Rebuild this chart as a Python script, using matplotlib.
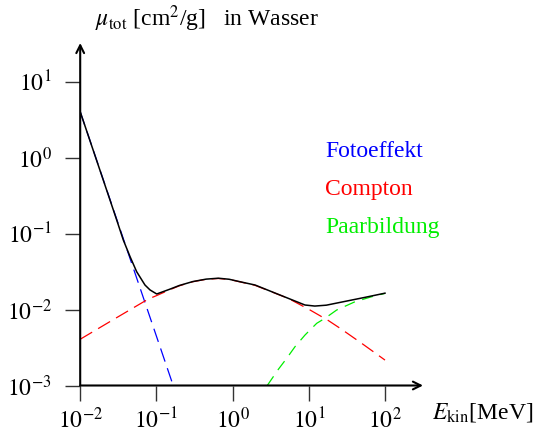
import matplotlib
matplotlib.use("Agg")
import matplotlib.pyplot as plt

# ---------------- data ----------------
photo_E = [0.01, 0.166]
photo_mu = [4.0, 0.001]

compton_E = [0.01, 0.03, 0.078, 0.1, 0.15, 0.2, 0.3, 0.45, 0.65, 0.9, 1.25, 1.97,
             5.38, 10.4, 14.8, 16.3, 27.0, 49.4, 100.0]
compton_mu = [0.00406, 0.0078, 0.0137, 0.0152, 0.0182, 0.0205, 0.0232, 0.0250, 0.0256,
              0.0249, 0.0231, 0.0208, 0.0140, 0.00984, 0.00803, 0.00766, 0.00548,
              0.00359, 0.00216]

pair_E = [2.85, 3.98, 5.13, 6.59, 8.91, 12.7, 16.3, 23.2, 40.4, 66.8, 100.0]
pair_mu = [0.001, 0.00163, 0.00228, 0.00324, 0.00461, 0.00658, 0.00766, 0.00984,
           0.01265, 0.01472, 0.0163]

total_E = [0.01, 0.0246, 0.0301, 0.0368, 0.0451, 0.0551, 0.0708, 0.0824, 0.101, 0.15,
           0.2, 0.3, 0.45, 0.65, 0.9, 1.25, 1.97, 4.19, 8.9, 12.0, 17.0, 24.4, 35.0,
           54.7, 100.0]
total_mu = [4.0, 0.276, 0.151, 0.082, 0.0496, 0.0314, 0.021, 0.0181, 0.0160, 0.0185,
            0.0207, 0.0233, 0.0251, 0.0258, 0.0250, 0.0232, 0.0210, 0.0155, 0.01146,
            0.0111, 0.0114, 0.01227, 0.0132, 0.01445, 0.0164]

x_ticks = [1e-2, 1e-1, 1e0, 1e1, 1e2]
x_ticklabels = [r"$10^{-2}$", r"$10^{-1}$", r"$10^{0}$", r"$10^{1}$", r"$10^{2}$"]
y_ticks = [1e-3, 1e-2, 1e-1, 1e0, 1e1]
y_ticklabels = [r"$10^{-3}$", r"$10^{-2}$", r"$10^{-1}$", r"$10^{0}$", r"$10^{1}$"]

labels = ["Fotoeffekt", "Compton", "Paarbildung"]
label_colors = ["#0000ff", "#ff0000", "#00ee00"]

# ---------------- style ----------------
plt.rcParams["font.family"] = ["Liberation Serif", "DejaVu Serif"]
plt.rcParams["mathtext.fontset"] = "stix"
plt.rcParams["lines.scale_dashes"] = False

W, H = 533, 433
fig = plt.figure(figsize=(W / 100, H / 100), dpi=100)


def fx(px):
    return px / W


def fy(py):
    return 1 - py / H


x0, x1 = 80.2, 423.0   # pixel of 1e-2 and arrow tip
y0, y1 = 385.5, 43.0   # pixel of 1e-3 and arrow tip
dec_x, dec_y = 76.2, 76.0

ax = fig.add_axes([fx(x0), fy(y0), fx(x1) - fx(x0), fy(y1) - fy(y0)])
ax.set_xscale("log")
ax.set_yscale("log")
ax.set_xlim(1e-2, 10 ** (-2 + (x1 - x0) / dec_x))
ax.set_ylim(1e-3, 10 ** (-3 + (y0 - y1) / dec_y))
ax.patch.set_alpha(0)
for s in ax.spines.values():
    s.set_visible(False)

ax.plot(photo_E, photo_mu, color="#0000ff", lw=0.9, ls=(0, (10, 5)))
ax.plot(compton_E, compton_mu, color="#ff0000", lw=0.9, ls=(0, (10, 5)))
ax.plot(pair_E, pair_mu, color="#00ee00", lw=0.9, ls=(0, (8, 5.5)))
ax.plot(total_E, total_mu, color="black", lw=1.1)

# axes with arrows
arrow_kw = dict(arrowstyle="->", lw=1.5, color="black", shrinkA=0, shrinkB=0,
                mutation_scale=14)
ax.annotate("", xy=(1, 0), xytext=(0, 0), xycoords="axes fraction",
            textcoords="axes fraction", arrowprops=arrow_kw, annotation_clip=False)
ax.annotate("", xy=(0, 1), xytext=(0, 0), xycoords="axes fraction",
            textcoords="axes fraction", arrowprops=arrow_kw, annotation_clip=False)

ax.minorticks_off()
ax.set_xticks(x_ticks)
ax.set_xticklabels(x_ticklabels)
ax.set_yticks(y_ticks)
ax.set_yticklabels(y_ticklabels)
ax.tick_params(axis="both", which="minor", length=0)
ax.tick_params(axis="x", which="major", direction="out", length=11, width=1.0,
               color="#333333", labelsize=17, pad=5)
ax.tick_params(axis="y", which="major", direction="out", length=10.5, width=1.0,
               color="#333333", labelsize=17, pad=10)

# texts
fig.text(fx(95), fy(26), r"$\mu_{\rm tot}$ [cm$^2$/g]   in Wasser", fontsize=17,
         ha="left", va="baseline")
fig.text(fx(432), fy(418), r"$E_{\rm kin}$[MeV]", fontsize=17, ha="left",
         va="baseline")

label_y = [156.7, 195.0, 233.3]
for t, c, yy in zip(labels, label_colors, label_y):
    fig.text(fx(325), fy(yy), t, color=c, fontsize=17, ha="left", va="baseline")

fig.savefig("out.png", dpi=100)
